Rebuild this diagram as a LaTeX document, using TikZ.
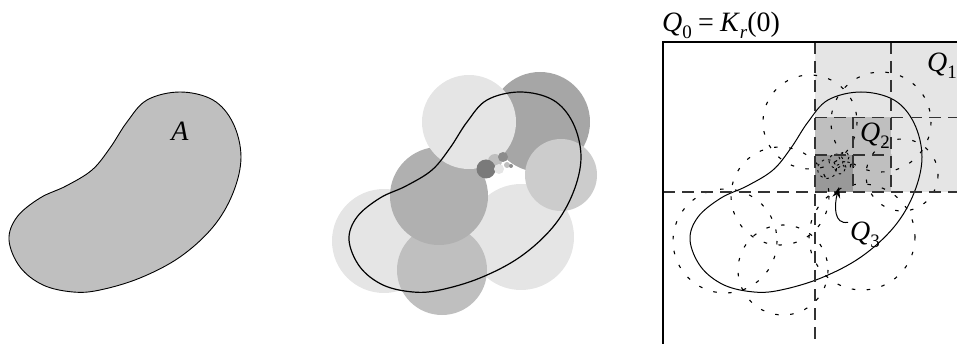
\documentclass[tikz,border=0pt]{standalone}
\usepackage{fontspec}
\setmainfont{Liberation Serif}
\usetikzlibrary{arrows.meta}
\tikzset{
  lbl/.style={font=\fontsize{28}{32}\selectfont, inner sep=0pt},
  ballring/.style={draw, line width=1.1pt, dash pattern=on 3.5pt off 11.5pt},
  tinyring/.style={draw, line width=0.9pt, dash pattern=on 2.5pt off 4pt},
  cutline/.style={draw=black!80, line width=1.1pt, dash pattern=on 12pt off 7pt},
}
\newcommand{\ix}[1]{\raisebox{-0.22em}{\fontsize{19}{22}\selectfont #1}}
\newcommand{\bean}{plot[smooth cycle, tension=0.6] coordinates {(180,92) (213,100) (233,123) (241,157) (233,193) (213,227) (180,257) (140,278) (100,290) (73,292) (43,285) (20,267) (9,240) (17,217) (40,198) (66,186) (92,170) (110,148) (127,122) (147,100)}}
\begin{document}
\begin{tikzpicture}[x=1pt,y=-1pt]
  \useasboundingbox (0,0) rectangle (957,344);
  % the set A
  \fill[black!25] \bean;
  \draw[line width=0.9pt] \bean;
  \node[lbl,anchor=base] (a) at (180,141) {\textit{A}};
  % covering by balls
  \begin{scope}[xshift=340pt]
    \foreach \cx/\cy/\r/\g in {200/122/50/35, 181/237/53/10, 44/241/52/10, 102/270/45/25, 99/196/49/31, 129/122/47/10, 221/175/36/20}
      \fill[black!\g] (\cx,\cy) circle (\r);
    \foreach \cx/\cy/\r/\g in {155/161/7/25, 146/169/9.5/52, 163/157/5/45, 159/169/5/10, 167/165/3/25, 171/166/2/45}
      \fill[black!\g] (\cx,\cy) circle (\r);
    \draw[line width=1.2pt] \bean;
  \end{scope}
  % cubes
  \fill[black!10] (815,42) rectangle (967,192);
  \fill[black!25] (815,117.5) rectangle (891,192);
  \fill[black!40] (815,155) rectangle (853,192);
  \begin{scope}[xshift=681pt]
    \foreach \cx/\cy/\r in {200/122/50, 181/237/53, 44/241/52, 102/270/45, 99/196/49, 129/122/47, 221/175/36}
      \path[ballring] (\cx,\cy) circle (\r);
    \foreach \cx/\cy/\r in {155/161/7, 146/169/9.5, 163/157/5, 159/169/5, 167/165/3, 171/166/2}
      \path[tinyring] (\cx,\cy) circle (\r);
    \draw[line width=1pt] \bean;
  \end{scope}
  \path[cutline] (663,192) -- (967,192);
  \path[cutline] (815,42) -- (815,344);
  \path[cutline] (815,117.5) -- (967,117.5);
  \path[cutline] (891,42) -- (891,192);
  \path[cutline] (815,155) -- (891,155);
  \path[cutline] (853,117.5) -- (853,192);
  \draw[line width=1.2pt] (663,344) -- (663,42) -- (967,42);
  \node[lbl,anchor=base west] (q0) at (662,32) {\textit{Q}\ix{0}\hspace{0.22em}=\hspace{0.22em}\textit{K}\ix{\textit{r}}(0)};
  \node[lbl,anchor=base west] (q1) at (927,72) {\textit{Q}\ix{1}};
  \node[lbl,anchor=base west] (q2) at (860,142) {\textit{Q}\ix{2}};
  \node[lbl,anchor=base west] (q3) at (850,241) {\textit{Q}\ix{3}};
  \coordinate (q3tip) at (839,187);
  \draw[line width=1pt,-{Stealth[length=11pt,width=8pt]}] ([xshift=-2pt]q3.north west) .. controls (834,225) and (834,206) .. (q3tip);
\end{tikzpicture}
\end{document}
